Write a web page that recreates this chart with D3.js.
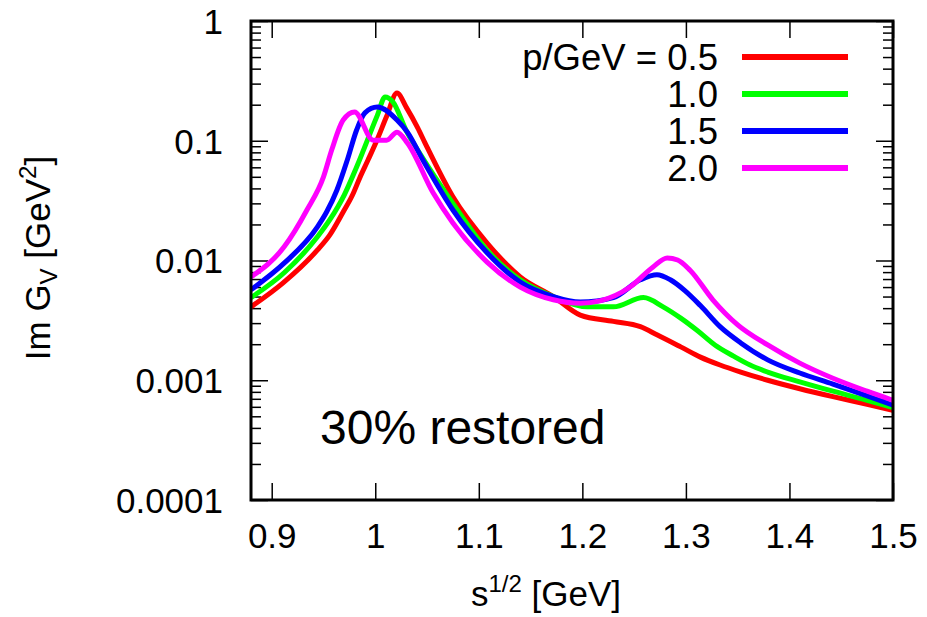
<!DOCTYPE html>
<html>
<head>
<meta charset="utf-8">
<script src="https://cdn.jsdelivr.net/npm/d3@7"></script>
<style>
    body { margin: 0; background: #fff; }
    svg { display: block; font-family: 'Liberation Sans', Arial, Helvetica, sans-serif; }
    .tick text { font-size: 35px; fill: #000; }
    .tick line { stroke: #000; stroke-width: 1.5; }
</style>
</head>
<body>
<svg id="chart" width="927" height="617"></svg>
<script>
// Im G_V vs sqrt(s), one curve per momentum p
const momentumLabels = ['p/GeV = 0.5', '1.0', '1.5', '2.0']
const lineColors = ['#ff0000', '#00ff00', '#0000ff', '#ff00ff']

const sP05 = [0.880, 0.911, 0.944, 0.956, 0.969, 0.978, 0.985, 0.993, 1.002, 1.011, 1.021, 1.030, 1.041, 1.048, 1.075, 1.108, 1.140, 1.172, 1.198, 1.230, 1.256, 1.272, 1.295, 1.314, 1.333, 1.353, 1.379, 1.410, 1.442, 1.475, 1.500]
const imP05 = [0.0041, 0.0065, 0.0122, 0.0163, 0.0254, 0.0352, 0.0489, 0.069, 0.103, 0.16, 0.25, 0.19, 0.128, 0.096, 0.034, 0.014, 0.0073, 0.0050, 0.0035, 0.0031, 0.0028, 0.0024, 0.0019, 0.00156, 0.00134, 0.00117, 0.00100, 0.00085, 0.00073, 0.00063, 0.00056]

const sP10 = [0.880, 0.912, 0.944, 0.956, 0.970, 0.982, 1.002, 1.0095, 1.017, 1.030, 1.044, 1.075, 1.108, 1.140, 1.172, 1.205, 1.230, 1.259, 1.278, 1.295, 1.311, 1.328, 1.346, 1.362, 1.379, 1.410, 1.442, 1.475, 1.500]
const imP10 = [0.0049, 0.0079, 0.0157, 0.0218, 0.0352, 0.0604, 0.163, 0.232, 0.211, 0.121, 0.076, 0.030, 0.0122, 0.0069, 0.0050, 0.0041, 0.0041, 0.0049, 0.0041, 0.0033, 0.0026, 0.00197, 0.00159, 0.00134, 0.00117, 0.00097, 0.00081, 0.00068, 0.00059]

const sP15 = [0.880, 0.912, 0.944, 0.953, 0.963, 0.973, 0.982, 0.990, 1.002, 1.021, 1.031, 1.046, 1.075, 1.108, 1.140, 1.172, 1.198, 1.230, 1.256, 1.272, 1.285, 1.299, 1.314, 1.333, 1.353, 1.379, 1.410, 1.442, 1.475, 1.500]
const imP15 = [0.0057, 0.0095, 0.019, 0.0254, 0.0388, 0.069, 0.123, 0.171, 0.191, 0.149, 0.118, 0.069, 0.0264, 0.0116, 0.0066, 0.0050, 0.0045, 0.0049, 0.0069, 0.0076, 0.0069, 0.0056, 0.0042, 0.0028, 0.00205, 0.00148, 0.00115, 0.00093, 0.00074, 0.00062]

const sP20 = [0.880, 0.912, 0.934, 0.950, 0.958, 0.969, 0.980, 0.998, 1.011, 1.021, 1.031, 1.056, 1.075, 1.108, 1.140, 1.172, 1.198, 1.217, 1.246, 1.268, 1.282, 1.292, 1.304, 1.326, 1.350, 1.379, 1.410, 1.442, 1.475, 1.500]
const imP20 = [0.0073, 0.0130, 0.0264, 0.050, 0.084, 0.149, 0.174, 0.101, 0.101, 0.118, 0.096, 0.0366, 0.0206, 0.0097, 0.0060, 0.0047, 0.0044, 0.0046, 0.0060, 0.0088, 0.0105, 0.0101, 0.0083, 0.0047, 0.0029, 0.00197, 0.00139, 0.00104, 0.00081, 0.00068]

const xTicks = [0.9, 1.0, 1.1, 1.2, 1.3, 1.4, 1.5]
const xTickLabels = ['0.9', '1', '1.1', '1.2', '1.3', '1.4', '1.5']
const yTicks = [1, 0.1, 0.01, 0.001, 0.0001]
const yTickLabels = ['1', '0.1', '0.01', '0.001', '0.0001']

const series = [
    { s: sP05, im: imP05 },
    { s: sP10, im: imP10 },
    { s: sP15, im: imP15 },
    { s: sP20, im: imP20 }
].map((d, i) => ({
    label: momentumLabels[i],
    color: lineColors[i],
    points: d.s.map((s, j) => [s, d.im[j]])
}))

const plot = { left: 251, right: 893, top: 21, bottom: 500 }

const svg = d3.select('#chart')

const x = d3.scaleLinear()
    .domain([0.88, 1.5])
    .range([plot.left, plot.right])

const y = d3.scaleLog()
    .domain([1e-4, 1])
    .range([plot.bottom, plot.top])

// minor ticks of the log axis: 2..9 in every decade
const yMinor = []
for (let e = -4; e < 0; e++) {
    for (let m = 2; m <= 9; m++) yMinor.push(m * Math.pow(10, e))
}

function styleAxis (g) {
    g.select('.domain').remove()
}

svg.append('g')
    .attr('transform', `translate(0, ${plot.bottom})`)
    .call(d3.axisBottom(x)
        .tickValues(xTicks)
        .tickSize(-17)
        .tickPadding(23)
        .tickFormat((d, i) => xTickLabels[i]))
    .call(styleAxis)

svg.append('g')
    .attr('transform', `translate(0, ${plot.top})`)
    .call(d3.axisTop(x)
        .tickValues(xTicks)
        .tickSize(-17)
        .tickFormat(''))
    .call(styleAxis)

svg.append('g')
    .attr('transform', `translate(${plot.left}, 0)`)
    .call(d3.axisLeft(y)
        .tickValues(yTicks)
        .tickSize(-17)
        .tickPadding(28)
        .tickFormat((d, i) => yTickLabels[i]))
    .call(styleAxis)
    .selectAll('.tick text')
    .attr('dy', '0.35em')

svg.append('g')
    .attr('transform', `translate(${plot.left}, 0)`)
    .call(d3.axisLeft(y).tickValues(yMinor).tickSize(-10).tickFormat(''))
    .call(styleAxis)

svg.append('g')
    .attr('transform', `translate(${plot.right}, 0)`)
    .call(d3.axisRight(y).tickValues(yTicks).tickSize(-17).tickFormat(''))
    .call(styleAxis)

svg.append('g')
    .attr('transform', `translate(${plot.right}, 0)`)
    .call(d3.axisRight(y).tickValues(yMinor).tickSize(-10).tickFormat(''))
    .call(styleAxis)

svg.append('clipPath')
    .attr('id', 'plot-clip')
    .append('rect')
    .attr('x', plot.left)
    .attr('y', plot.top)
    .attr('width', plot.right - plot.left)
    .attr('height', plot.bottom - plot.top)

const line = d3.line()
    .x(d => x(d[0]))
    .y(d => y(d[1]))
    .curve(d3.curveMonotoneX)

svg.append('g')
    .attr('class', 'g-container-curve')
    .attr('clip-path', 'url(#plot-clip)')
    .selectAll('path')
    .data(series)
    .enter()
    .append('path')
    .attr('d', d => line(d.points))
    .attr('fill', 'none')
    .attr('stroke', d => d.color)
    .attr('stroke-width', 5)
    .attr('stroke-linejoin', 'miter')

// frame
svg.append('rect')
    .attr('x', plot.left)
    .attr('y', plot.top)
    .attr('width', plot.right - plot.left)
    .attr('height', plot.bottom - plot.top)
    .attr('fill', 'none')
    .attr('stroke', '#000')
    .attr('stroke-width', 3)

// legend
const legendY = d3.scalePoint()
    .domain(momentumLabels)
    .range([57, 168])

const gLegend = svg.append('g').attr('class', 'g-legend')
const legendItem = gLegend.selectAll('g')
    .data(series)
    .enter()
    .append('g')
    .attr('transform', d => `translate(0, ${legendY(d.label)})`)

legendItem.append('text')
    .attr('x', 718)
    .attr('dy', 12.5)
    .attr('text-anchor', 'end')
    .style('font-size', '36.5px')
    .text(d => d.label)

legendItem.append('line')
    .attr('x1', 742)
    .attr('x2', 848)
    .attr('stroke', d => d.color)
    .attr('stroke-width', 6)

// annotation
svg.append('text')
    .attr('x', 320)
    .attr('y', 444)
    .style('font-size', '48px')
    .text('30% restored')

// axis titles
const xTitle = svg.append('text')
    .attr('x', 546)
    .attr('y', 606)
    .attr('text-anchor', 'middle')
    .style('font-size', '35px')
xTitle.append('tspan').text('s')
xTitle.append('tspan').attr('dy', -14).style('font-size', '24px').text('1/2')
xTitle.append('tspan').attr('dy', 14).text(' [GeV]')

const yTitle = svg.append('text')
    .attr('transform', 'translate(50, 258) rotate(-90)')
    .attr('text-anchor', 'middle')
    .style('font-size', '35px')
yTitle.append('tspan').text('Im G')
yTitle.append('tspan').attr('dy', 7).style('font-size', '24px').text('V')
yTitle.append('tspan').attr('dy', -7).text(' [GeV')
yTitle.append('tspan').attr('dy', -14).style('font-size', '24px').text('2')
yTitle.append('tspan').attr('dy', 14).text(']')
</script>
</body>
</html>
